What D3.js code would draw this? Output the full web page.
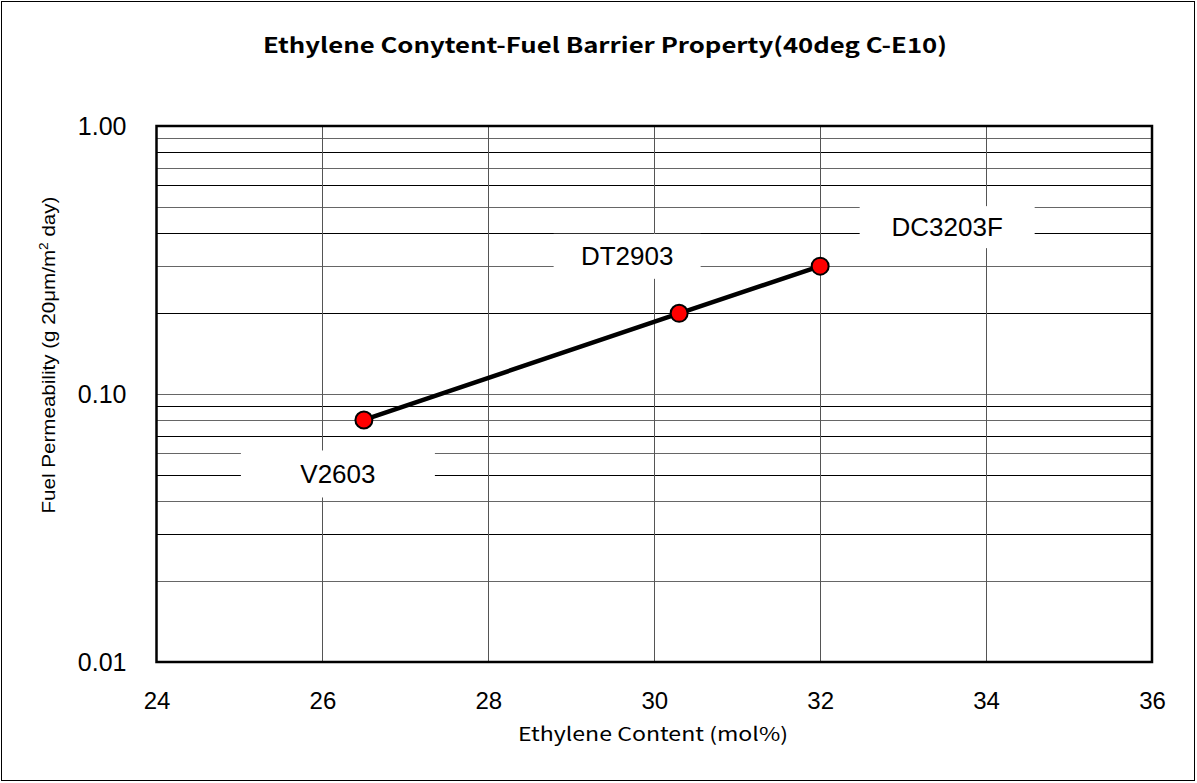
<!DOCTYPE html>
<html>
<head>
<meta charset="utf-8">
<script src="https://cdn.jsdelivr.net/npm/d3@7"></script>
<style>
  body { margin: 0; background: #fff; }
  svg { display: block; }
</style>
</head>
<body>
<div id="chart"></div>
<script>
// grades, ethylene content (mol%) and fuel permeability
const grades = ['V2603', 'DT2903', 'DC3203F'];
const ethylene = [26.5, 30.3, 32.0];
const permeability = [0.08, 0.20, 0.30];
const xTicks = [24, 26, 28, 30, 32, 34, 36];
const yTicks = [0.01, 0.1, 1];

// label layout: offset of the text from its point, and the white box around it
const labelLayout = [
  { dx: -26, dy: 63, w: 194, h: 47 },
  { dx: -52, dy: -48, w: 147, h: 45 },
  { dx: 127, dy: -30, w: 175, h: 42 }
];

const W = 1197, H = 783;
const plot = { left: 156.5, right: 1152, top: 126, bottom: 662 };

const svg = d3.select('#chart').append('svg')
  .attr('width', W)
  .attr('height', H);

// outer frame
svg.append('rect')
  .attr('x', 1.5).attr('y', 1.5)
  .attr('width', W - 4).attr('height', H - 4)
  .attr('fill', '#fff')
  .attr('stroke', '#000')
  .attr('stroke-width', 1);

const x = d3.scaleLinear()
  .domain([24, 36])
  .range([plot.left, plot.right]);

const y = d3.scaleLog()
  .domain([0.01, 1])
  .range([plot.bottom, plot.top]);

// grid
const grid = svg.append('g');
grid.selectAll('.hgrid')
  .data(y.ticks().filter(d => d > 0.0100001 && d < 0.99999))
  .enter()
  .append('line')
  .attr('x1', plot.left).attr('x2', plot.right)
  .attr('y1', d => Math.round(y(d)) + 0.5)
  .attr('y2', d => Math.round(y(d)) + 0.5)
  .attr('stroke', (d, i) => i % 2 ? '#000' : '#666')
  .attr('stroke-width', 1);

grid.selectAll('.vgrid')
  .data(xTicks.slice(1, -1))
  .enter()
  .append('line')
  .attr('y1', plot.top).attr('y2', plot.bottom)
  .attr('x1', d => Math.round(x(d)) + 0.5)
  .attr('x2', d => Math.round(x(d)) + 0.5)
  .attr('stroke', '#555')
  .attr('stroke-width', 1);

// label boxes (drawn over the grid, under the line)
const labels = grades.map((g, i) => ({
  name: g,
  tx: x(ethylene[i]) + labelLayout[i].dx,
  ty: y(permeability[i]) + labelLayout[i].dy,
  w: labelLayout[i].w,
  h: labelLayout[i].h
}));

svg.selectAll('.lblbox')
  .data(labels)
  .enter()
  .append('rect')
  .attr('x', d => d.tx - d.w / 2)
  .attr('y', d => d.ty - 9 - d.h / 2)
  .attr('width', d => d.w)
  .attr('height', d => d.h)
  .attr('fill', '#fff');

svg.selectAll('.lbl')
  .data(labels)
  .enter()
  .append('text')
  .attr('x', d => d.tx)
  .attr('y', d => d.ty)
  .attr('text-anchor', 'middle')
  .attr('font-family', '"Liberation Sans", Arial, sans-serif')
  .attr('font-size', 26)
  .attr('fill', '#000')
  .text(d => d.name);

// plot border
svg.append('rect')
  .attr('x', plot.left).attr('y', plot.top)
  .attr('width', plot.right - plot.left)
  .attr('height', plot.bottom - plot.top)
  .attr('fill', 'none')
  .attr('stroke', '#000')
  .attr('stroke-width', 2.5);

// series
const pts = grades.map((g, i) => [x(ethylene[i]), y(permeability[i])]);

svg.append('path')
  .datum(pts)
  .attr('d', d3.line())
  .attr('fill', 'none')
  .attr('stroke', '#000')
  .attr('stroke-width', 4.5);

svg.selectAll('.pt')
  .data(pts)
  .enter()
  .append('circle')
  .attr('cx', d => d[0])
  .attr('cy', d => d[1])
  .attr('r', 8.5)
  .attr('fill', '#ff0000')
  .attr('stroke', '#000')
  .attr('stroke-width', 2);

// axes
const xAxis = svg.append('g')
  .attr('transform', `translate(0,${plot.bottom})`)
  .call(d3.axisBottom(x).tickValues(xTicks).tickSize(0).tickPadding(30).tickFormat(d3.format('d')));
xAxis.select('.domain').remove();
xAxis.selectAll('text')
  .attr('font-family', '"Liberation Sans", Arial, sans-serif')
  .attr('font-size', 24)
  .attr('fill', '#000');

const yAxis = svg.append('g')
  .attr('transform', `translate(${plot.left},0)`)
  .call(d3.axisLeft(y).tickValues(yTicks).tickSize(0).tickPadding(30).tickFormat(d3.format('.2f')));
yAxis.select('.domain').remove();
yAxis.selectAll('text')
  .attr('font-family', '"Liberation Sans", Arial, sans-serif')
  .attr('font-size', 25)
  .attr('fill', '#000');

// titles
svg.append('text')
  .attr('x', 605)
  .attr('y', 53)
  .attr('text-anchor', 'middle')
  .attr('font-family', '"Noto Sans CJK JP", "Liberation Sans", sans-serif')
  .attr('font-weight', 'bold')
  .attr('font-size', 21)
  .attr('textLength', 684)
  .attr('lengthAdjust', 'spacingAndGlyphs')
  .text('Ethylene Conytent-Fuel Barrier Property(40deg C-E10)');

svg.append('text')
  .attr('x', 653)
  .attr('y', 741)
  .attr('text-anchor', 'middle')
  .attr('font-family', '"Noto Sans CJK JP", "Liberation Sans", sans-serif')
  .attr('font-size', 19)
  .attr('textLength', 270)
  .attr('lengthAdjust', 'spacingAndGlyphs')
  .text('Ethylene Content (mol%)');

const yTitle = svg.append('text')
  .attr('transform', 'translate(55,355) rotate(-90)')
  .attr('text-anchor', 'middle')
  .attr('font-family', '"Liberation Sans", Arial, sans-serif')
  .attr('font-size', 18)
  .attr('textLength', 317)
  .attr('lengthAdjust', 'spacingAndGlyphs');
yTitle.append('tspan').text('Fuel Permeability (g 20\u03bcm/m');
yTitle.append('tspan').attr('baseline-shift', 'super').attr('font-size', 12).text('2');
yTitle.append('tspan').text(' day)');
</script>
</body>
</html>
